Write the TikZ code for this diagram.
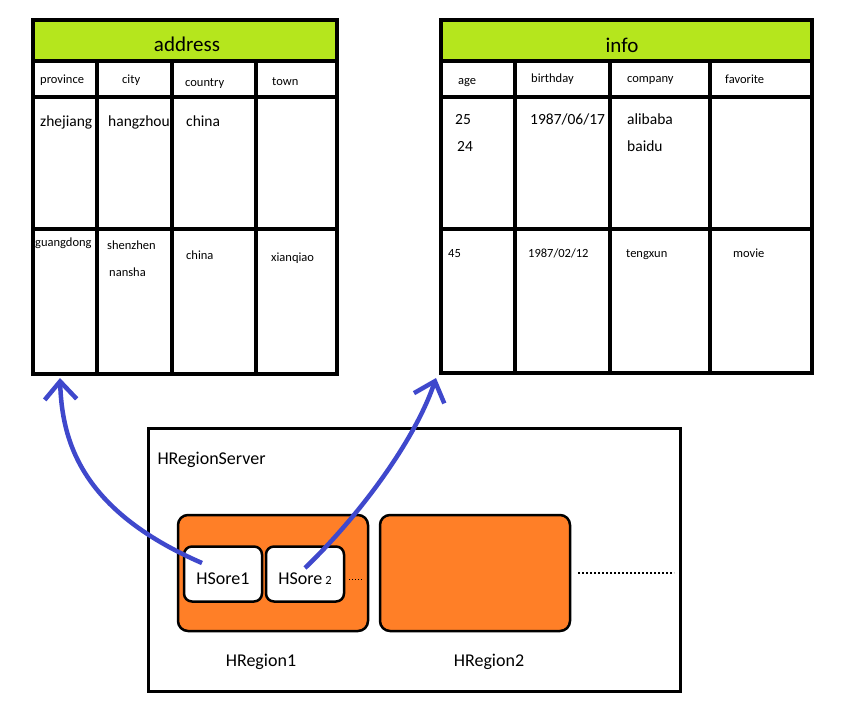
\documentclass[tikz,border=0pt]{standalone}
\usepackage{fontspec}
\setmainfont{Carlito}
\usetikzlibrary{arrows.meta}
\definecolor{headgreen}{RGB}{181,230,29}
\definecolor{regorange}{RGB}{255,127,39}
\definecolor{linkblue}{RGB}{63,72,204}
\newcommand{\fs}[1]{\fontsize{#1}{#1}\selectfont}

\begin{document}
\begin{tikzpicture}[x=1pt, y=-1pt,
        grid/.style={line width=3.5pt},
        cell/.style={anchor=west, inner sep=0pt, text height=0.7em, text depth=0.1em},
        colname/.style={cell, font=\fs{12.5}},
        bigval/.style={cell, font=\fs{15.5}},
        smallval/.style={cell, font=\fs{12.5}},
        title/.style={font=\fs{21}},
        region/.style={draw, line width=2.5pt, fill=regorange, rounded corners=10pt, minimum width=190pt, minimum height=116pt},
        store/.style={draw, line width=2.5pt, fill=white, rounded corners=8pt, minimum width=78pt, minimum height=55pt, text height=20pt, text depth=0pt, font=\fs{18}},
        link/.style={linkblue, line width=4.5pt, -{Straight Barb[length=18pt, width=32pt]}}]
        \useasboundingbox (0,0) rectangle (856,710);

        % address table
        \fill[headgreen] (33,20) rectangle (337,61);
        \node[grid, draw, inner sep=0pt, outer sep=0pt, minimum width=304pt, minimum height=354pt] (address) at (185,197) {};
        \draw[grid] (33,61) -- (337,61);
        \draw[grid] (33,97) -- (337,97);
        \draw[grid] (33,229) -- (337,229);
        \draw[grid] (97,61) -- (97,374);
        \draw[grid] (172,61) -- (172,374);
        \draw[grid] (256,61) -- (256,374);
        \node[title] (addresstitle) at (187,44) {address};
        \node[colname] (province) at (40,80) {province};
        \node[colname] (city) at (122,80) {city};
        \node[colname] (country) at (185,83) {country};
        \node[colname] (town) at (272,82) {town};
        \node[bigval] (zhejiang) at (40,123) {zhejiang};
        \node[bigval] (hangzhou) at (108,123) {hangzhou};
        \node[bigval] (chinaone) at (186,123) {china};
        \node[smallval] (guangdong) at (35,243) {guangdong};
        \node[smallval] (shenzhen) at (107,246) {shenzhen};
        \node[smallval] (nansha) at (109,273) {nansha};
        \node[smallval] (chinatwo) at (186,256) {china};
        \node[smallval] (xianqiao) at (271,258) {xianqiao};

        % info table
        \fill[headgreen] (441,20) rectangle (812,61);
        \node[grid, draw, inner sep=0pt, outer sep=0pt, minimum width=371pt, minimum height=353pt] (info) at (626.5,196.5) {};
        \draw[grid] (441,61) -- (812,61);
        \draw[grid] (441,97) -- (812,97);
        \draw[grid] (441,229) -- (812,229);
        \draw[grid] (515,61) -- (515,373);
        \draw[grid] (610,61) -- (610,373);
        \draw[grid] (710,61) -- (710,373);
        \node[title] (infotitle) at (622,45) {info};
        \node[colname] (age) at (458,81) {age};
        \node[colname] (birthday) at (531,79) {birthday};
        \node[colname] (company) at (627,79) {company};
        \node[colname] (favorite) at (725,80) {favorite};
        \node[bigval] (agea) at (455,121) {25};
        \node[bigval] (ageb) at (457,148) {24};
        \node[bigval] (birtha) at (530,121) {1987/06/17};
        \node[bigval] (alibaba) at (627,121) {alibaba};
        \node[bigval] (baidu) at (627,148) {baidu};
        \node[smallval] (agec) at (448,254) {45};
        \node[smallval] (birthb) at (528,254) {1987/02/12};
        \node[smallval] (tengxun) at (626,254) {tengxun};
        \node[smallval] (movie) at (733,254) {movie};

        % region server
        \node[draw, line width=3pt, inner sep=0pt, minimum width=532pt, minimum height=263pt] (server) at (414,559.5) {};
        \node[anchor=west, font=\fs{18}] (serverlabel) at (154,460) {HRegionServer};
        \node[region] (region1) at (273,573) {};
        \node[region] (region2) at (475,573) {};
        \node[font=\fs{18}] (regionlabel1) at (261,662) {HRegion1};
        \node[font=\fs{18}] (regionlabel2) at (489,662) {HRegion2};
        \node[store] (store1) at (223,574) {HSore1};
        \node[store] (store2) at (305,574) {HSore\,{\fs{12.5}2}};
        \draw[line width=1pt, dotted] ([xshift=4pt,yshift=-5pt]store2.east) -- ++(13,0);
        \draw[line width=2pt, dash pattern=on 2pt off 2pt] ([xshift=7pt]region2.east) -- ++(96,0);

        % stores to tables
        \draw[link] ([xshift=-21pt,yshift=11pt]store1.center) .. controls (80,510) and (62,440) .. ([xshift=27pt,yshift=-4pt]address.south west);
        \draw[link] ([yshift=6pt]store2.center) .. controls (360,515) and (415,440) .. ([xshift=-5pt,yshift=-5pt]info.south west);
\end{tikzpicture}
\end{document}
